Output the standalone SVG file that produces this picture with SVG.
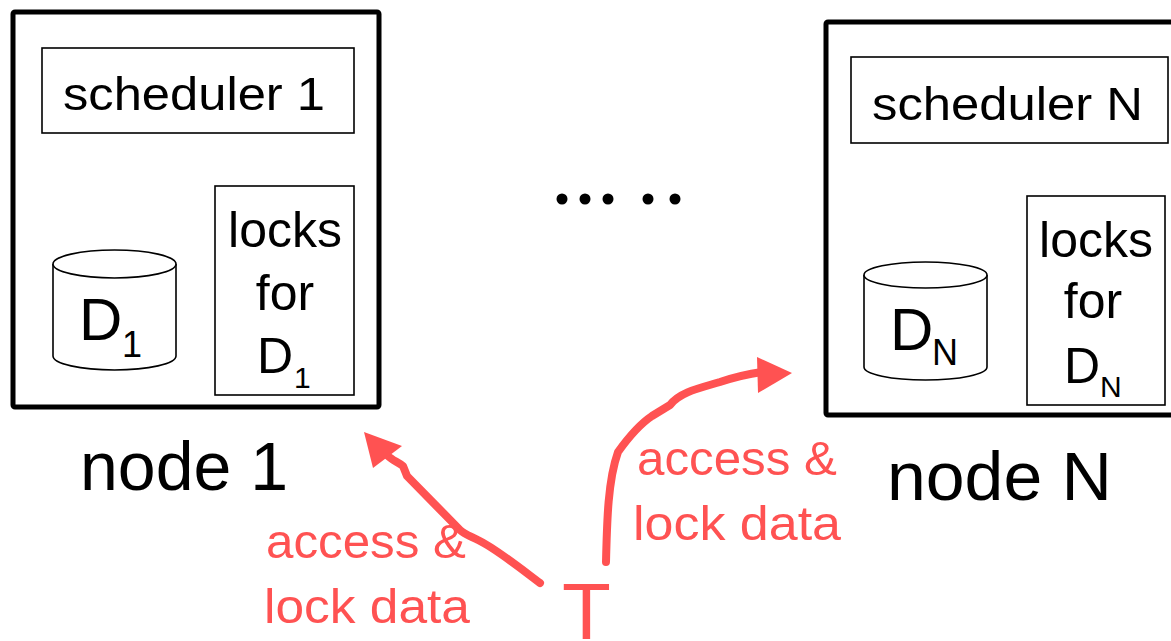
<svg xmlns="http://www.w3.org/2000/svg" width="1171" height="641" viewBox="0 0 1171 641">
<style>
.outer{fill:#fff;stroke:#000;stroke-width:5}
.box{fill:#fff;stroke:#000;stroke-width:1.6}
.cyl{fill:#fff;stroke:#000;stroke-width:1.6}
.t{font-family:"Liberation Sans",Arial,sans-serif;fill:#000}
.r{font-family:"Liberation Sans",Arial,sans-serif;fill:#ff5252}
.line{fill:none;stroke:#ff5252;stroke-width:8;stroke-linecap:round;stroke-linejoin:round}
.head{fill:#ff5252;stroke:none}
.dot{fill:#000}
</style>
<rect width="1171" height="641" fill="#fff"/>
<g id="node1">
  <rect class="outer" x="13" y="12" width="366" height="395" rx="2"/>
  <rect class="box" x="42" y="48" width="312" height="85"/>
  <text class="t" x="63" y="110" font-size="46" textLength="262" lengthAdjust="spacingAndGlyphs">scheduler 1</text>
  <g id="db1">
    <path class="cyl" d="M53,264 L53,356 A61.5,14 0 0 0 176,356 L176,264"/>
    <ellipse class="cyl" cx="114.5" cy="264" rx="61.5" ry="14"/>
    <text class="t" x="79" y="340" font-size="60">D<tspan x="122" y="357" font-size="36">1</tspan></text>
  </g>
  <g id="locks1">
    <rect class="box" x="215" y="186" width="139" height="209"/>
    <text class="t" x="285" y="247" font-size="50" text-anchor="middle">locks</text>
    <text class="t" x="285" y="310" font-size="50" text-anchor="middle">for</text>
    <text class="t" x="257" y="373" font-size="50">D<tspan x="294" y="388" font-size="30">1</tspan></text>
  </g>
  <text class="t" x="80" y="490" font-size="68" textLength="208" lengthAdjust="spacingAndGlyphs">node 1</text>
</g>
<g id="ellipsis">
  <circle class="dot" cx="562" cy="199" r="5.5"/>
  <circle class="dot" cx="585" cy="199" r="5.5"/>
  <circle class="dot" cx="608" cy="199" r="5.5"/>
  <circle class="dot" cx="648" cy="199" r="5.5"/>
  <circle class="dot" cx="675" cy="199" r="5.5"/>
</g>
<g id="nodeN">
  <rect class="outer" x="826" y="22" width="360" height="393" rx="2"/>
  <rect class="box" x="851" y="57" width="317" height="86"/>
  <text class="t" x="872" y="120" font-size="46" textLength="271" lengthAdjust="spacingAndGlyphs">scheduler N</text>
  <g id="dbN">
    <path class="cyl" d="M864,275 L864,367 A61.5,13 0 0 0 987,367 L987,275"/>
    <ellipse class="cyl" cx="925.5" cy="275" rx="61.5" ry="13"/>
    <text class="t" x="890" y="350" font-size="60">D<tspan x="932" y="365" font-size="36">N</tspan></text>
  </g>
  <g id="locksN">
    <rect class="box" x="1027" y="196" width="138" height="209"/>
    <text class="t" x="1096" y="257" font-size="50" text-anchor="middle">locks</text>
    <text class="t" x="1093" y="318" font-size="50" text-anchor="middle">for</text>
    <text class="t" x="1064" y="383" font-size="50">D<tspan x="1100" y="397" font-size="30">N</tspan></text>
  </g>
  <text class="t" x="887" y="500" font-size="68" textLength="225" lengthAdjust="spacingAndGlyphs">node N</text>
</g>
<g id="T">
  <text class="r" x="562" y="639" font-size="80">T</text>
</g>
<g id="connectors">
  <path class="line" d="M540,583 C520,568 495,548 478,540 C470,536 464,534 460,530 L407,476 L403,466 C398,462 392,460 388,456"/>
  <polygon class="head" points="364,432 402,446 373,468"/>
  <path class="line" d="M606,562 C607,520 608,480 618,452 C628,438 640,424 652,416 L670,405 C680,392 700,388 720,382 C735,377 748,374 762,372"/>
  <polygon class="head" points="792,373 757,357 758,393"/>
  <text class="r" x="266" y="558" font-size="48" textLength="200" lengthAdjust="spacingAndGlyphs">access &amp;</text>
  <text class="r" x="264" y="623" font-size="48" textLength="206" lengthAdjust="spacingAndGlyphs">lock data</text>
  <text class="r" x="637" y="475" font-size="48" textLength="200" lengthAdjust="spacingAndGlyphs">access &amp;</text>
  <text class="r" x="633" y="540" font-size="48" textLength="208" lengthAdjust="spacingAndGlyphs">lock data</text>
</g>
</svg>
